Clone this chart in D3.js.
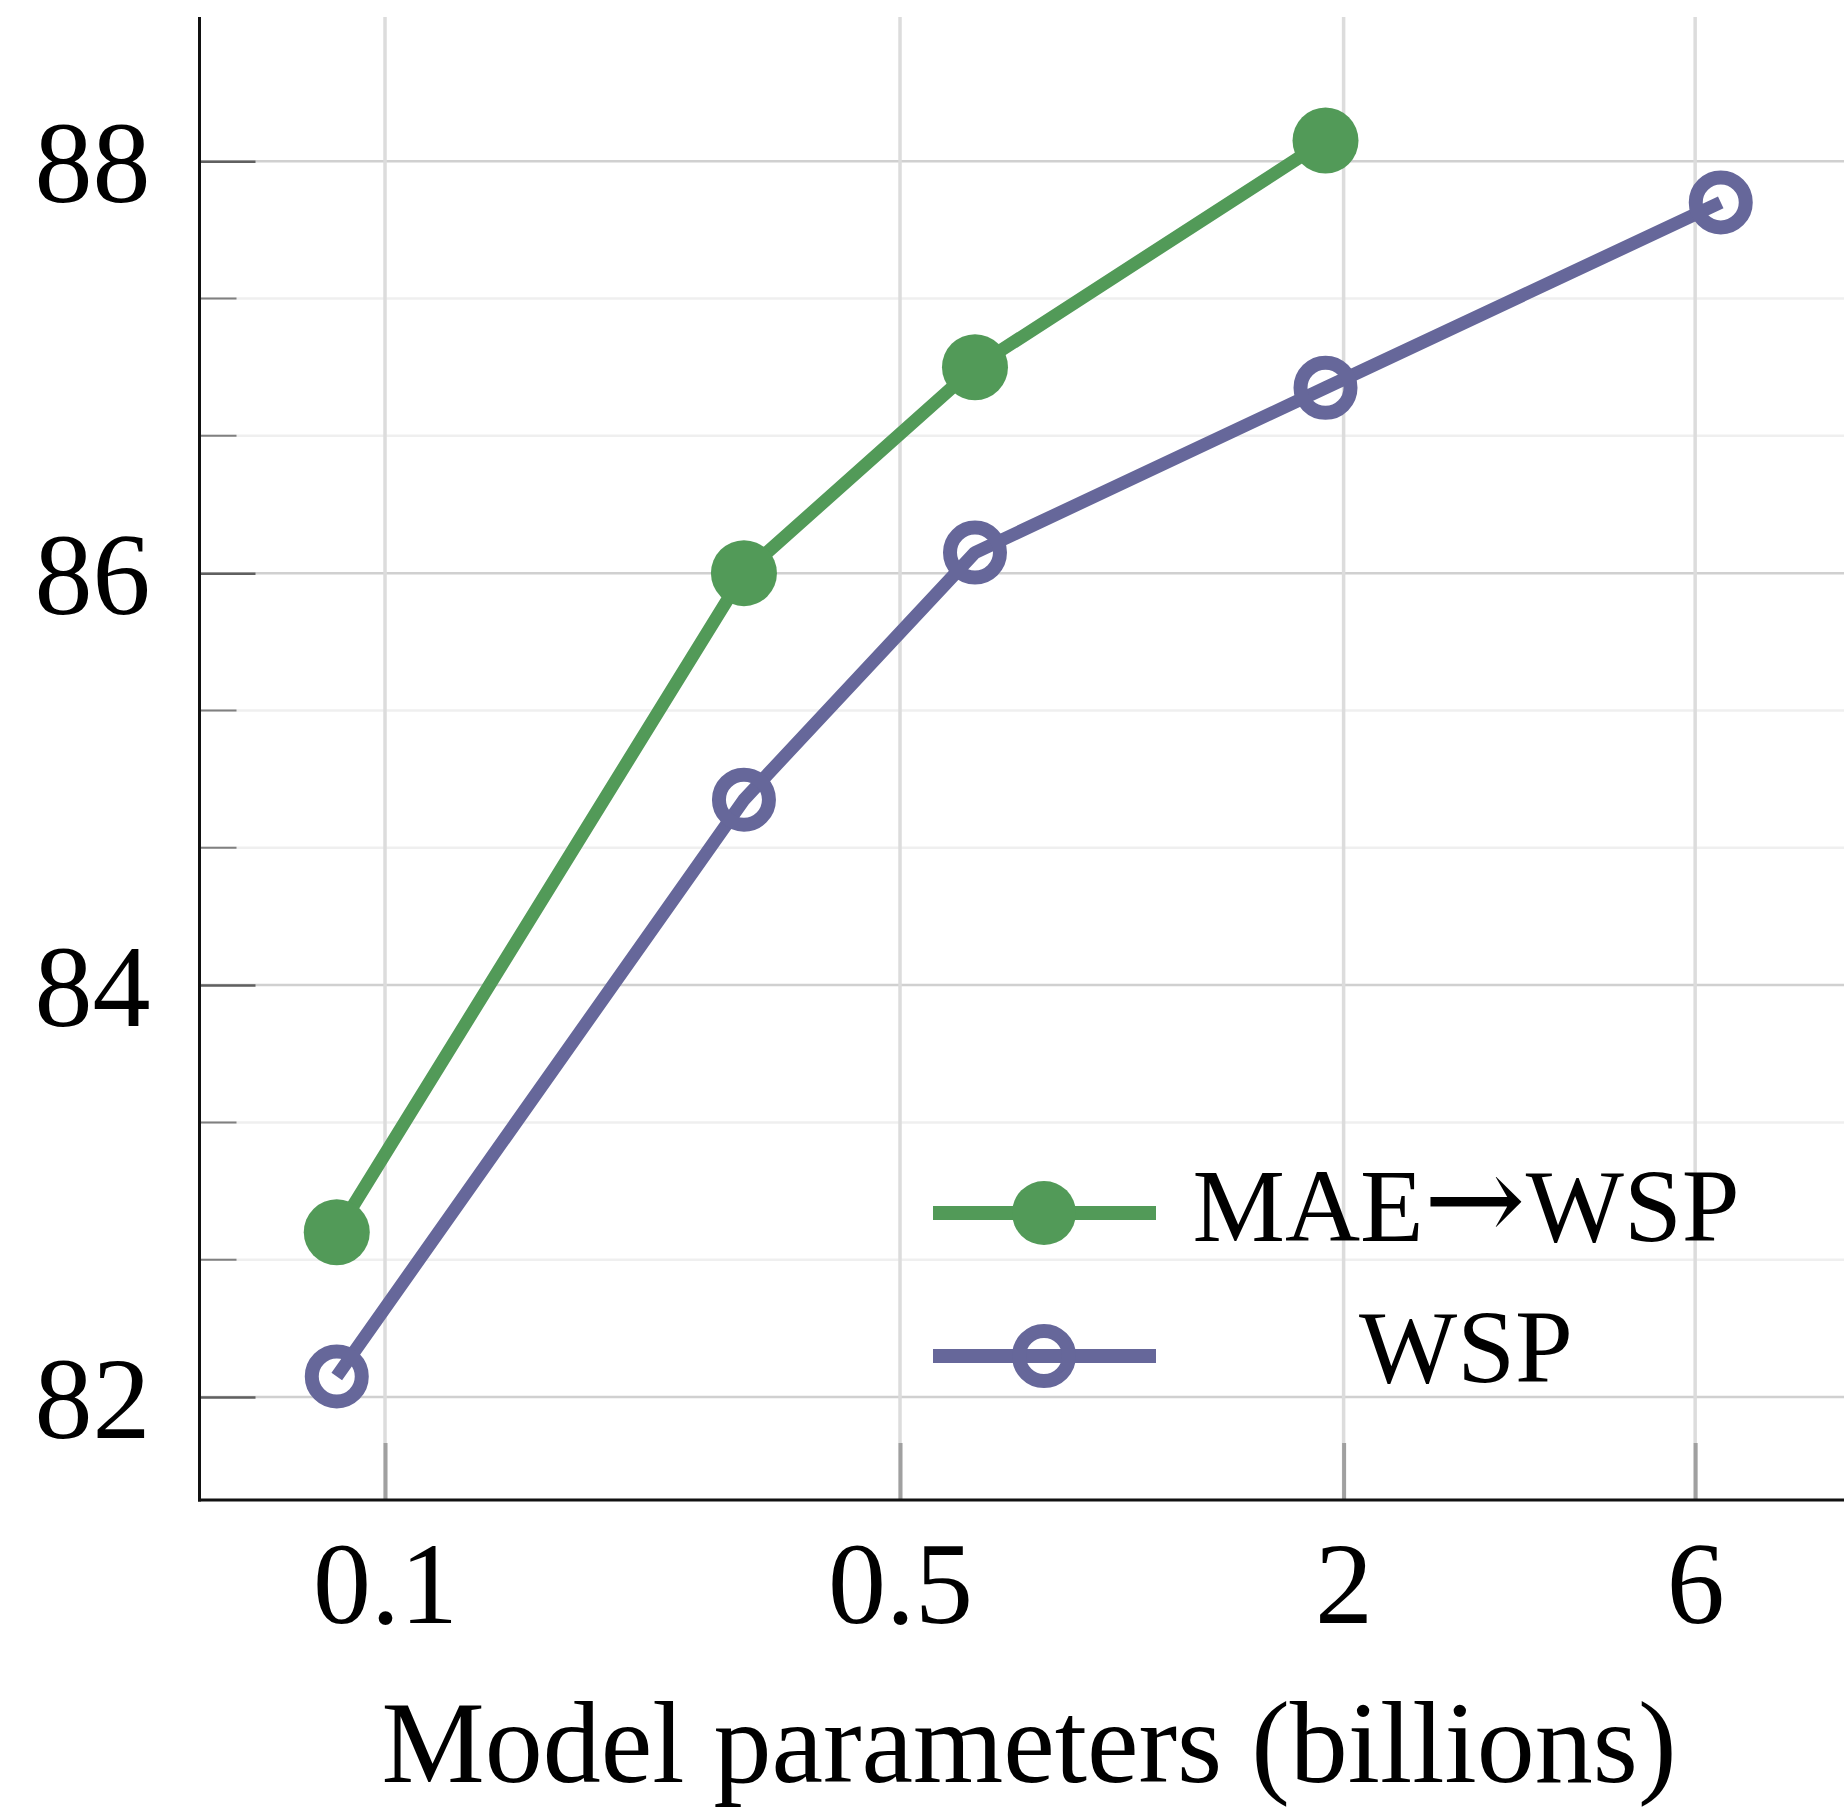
<!DOCTYPE html>
<html>
<head>
<meta charset="utf-8">
<script src="https://cdn.jsdelivr.net/npm/d3@7"></script>
<style>
  html, body { margin: 0; padding: 0; background: #ffffff; }
  svg { display: block; }
  text { font-family: "Liberation Serif", "Times New Roman", serif; fill: #000; }
</style>
</head>
<body>
<svg id="chart" width="1844" height="1810"></svg>
<script>
// ---- data ----
const paramsMaeWsp = [0.086, 0.307, 0.632, 1.89];
const maeWsp = [82.8, 86.0, 87.0, 88.1];
const paramsWsp = [0.086, 0.307, 0.632, 1.89, 6.5];
const wsp = [82.1, 84.9, 86.1, 86.9, 87.8];
const xTickValues = [0.1, 0.5, 2, 6];
const xTickLabels = ["0.1", "0.5", "2", "6"];
const yTickValues = [82, 84, 86, 88];
const yMinorTicks = [82.667, 83.333, 84.667, 85.333, 86.667, 87.333];
const seriesNames = [["MAE", "\u2192", "WSP"], ["WSP"]];
const xLabel = "Model parameters (billions)";

(function () {
// ---- layout ----
const W = 1844, H = 1810;
const pLeft = 199.5, pRight = 1858.6, pTop = 17, pBottom = 1500;
const green = "#529a58", purple = "#66679a";
const fontSize = 116, legendFont = 104;

const svg = d3.select("#chart");
const x = d3.scaleLog().domain([0.056, 10]).range([pLeft, pRight]);
const y = d3.scaleLinear().domain([81.5, 88.7]).range([pBottom, pTop]);

// minor horizontal grid
svg.append("g").selectAll("line").data(yMinorTicks).join("line")
  .attr("x1", pLeft).attr("x2", W).attr("y1", d => y(d)).attr("y2", d => y(d))
  .attr("stroke", "#efefef").attr("stroke-width", 2.5);
// major horizontal grid
svg.append("g").selectAll("line").data(yTickValues).join("line")
  .attr("x1", pLeft).attr("x2", W).attr("y1", d => y(d)).attr("y2", d => y(d))
  .attr("stroke", "#d0d0d0").attr("stroke-width", 2.5);
// vertical grid
svg.append("g").selectAll("line").data(xTickValues).join("line")
  .attr("x1", d => x(d)).attr("x2", d => x(d)).attr("y1", pTop).attr("y2", pBottom)
  .attr("stroke", "#dcdcdc").attr("stroke-width", 3.5);

// y axis (ticks inside)
const yAxis = svg.append("g").attr("transform", `translate(${pLeft},0)`)
  .call(d3.axisLeft(y).tickValues(yTickValues).tickSize(-56).tickPadding(49).tickFormat(d3.format("d")));
yAxis.select(".domain").remove();
yAxis.selectAll(".tick line").attr("stroke", "#606060").attr("stroke-width", 2.5);
yAxis.selectAll(".tick text").attr("font-size", fontSize).attr("dy", "0.35em")
  .style("font-family", "Liberation Serif");
// minor y ticks
svg.append("g").selectAll("line").data(yMinorTicks).join("line")
  .attr("x1", pLeft).attr("x2", pLeft + 37).attr("y1", d => y(d)).attr("y2", d => y(d))
  .attr("stroke", "#808080").attr("stroke-width", 2);

// x axis (ticks inside)
const xAxis = svg.append("g").attr("transform", `translate(0,${pBottom})`)
  .call(d3.axisBottom(x).tickValues(xTickValues).tickSize(-57).tickPadding(41)
    .tickFormat((d, i) => xTickLabels[i]));
xAxis.select(".domain").remove();
xAxis.selectAll(".tick line").attr("stroke", "#a0a0a0").attr("stroke-width", 4);
xAxis.selectAll(".tick text").attr("font-size", fontSize).attr("dy", "0.71em")
  .style("font-family", "Liberation Serif");

// axis lines
svg.append("line").attr("x1", pLeft).attr("x2", pLeft).attr("y1", pTop).attr("y2", pBottom + 1.5)
  .attr("stroke", "#111").attr("stroke-width", 3);
svg.append("line").attr("x1", pLeft - 1.5).attr("x2", W).attr("y1", pBottom).attr("y2", pBottom)
  .attr("stroke", "#111").attr("stroke-width", 3);

// x label
svg.append("text").attr("x", (pLeft + pRight) / 2).attr("y", 1782)
  .attr("text-anchor", "middle").attr("font-size", fontSize).text(xLabel);

// series
const line = d3.line().x(d => x(d[0])).y(d => y(d[1]));
const gData = paramsMaeWsp.map((p, i) => [p, maeWsp[i]]);
const pData = paramsWsp.map((p, i) => [p, wsp[i]]);

svg.append("path").datum(pData).attr("d", line).attr("fill", "none")
  .attr("stroke", purple).attr("stroke-width", 13).attr("stroke-linejoin", "round");
svg.append("g").selectAll("circle").data(pData).join("circle")
  .attr("cx", d => x(d[0])).attr("cy", d => y(d[1])).attr("r", 25)
  .attr("fill", "none").attr("stroke", purple).attr("stroke-width", 14);

svg.append("path").datum(gData).attr("d", line).attr("fill", "none")
  .attr("stroke", green).attr("stroke-width", 13).attr("stroke-linejoin", "round");
svg.append("g").selectAll("circle").data(gData).join("circle")
  .attr("cx", d => x(d[0])).attr("cy", d => y(d[1])).attr("r", 33)
  .attr("fill", green);

// legend
const legX1 = 933, legX2 = 1156, legMid = 1044;
const legRows = [
  { parts: seriesNames[0], color: green, filled: true, y: 1213 },
  { parts: seriesNames[1], color: purple, filled: false, y: 1356 }
];
const textCenter = 1466;
const lg = svg.append("g");
legRows.forEach((r, i) => {
  lg.append("line").attr("x1", legX1).attr("x2", legX2).attr("y1", r.y).attr("y2", r.y)
    .attr("stroke", r.color).attr("stroke-width", 14);
  if (r.filled) {
    lg.append("circle").attr("cx", legMid).attr("cy", r.y).attr("r", 32).attr("fill", r.color);
  } else {
    lg.append("circle").attr("cx", legMid).attr("cy", r.y).attr("r", 25)
      .attr("fill", "none").attr("stroke", r.color).attr("stroke-width", 14);
  }
  const t = lg.append("text").attr("x", textCenter).attr("y", r.y + (i === 0 ? 28 : 26))
    .attr("text-anchor", "middle").attr("font-size", legendFont);
  r.parts.forEach(p => {
    const ts = t.append("tspan").text(p);
    if (p === "\u2192") ts.style("font-family", "DejaVu Serif").attr("font-size", 122);
  });
});
})();
</script>
</body>
</html>
